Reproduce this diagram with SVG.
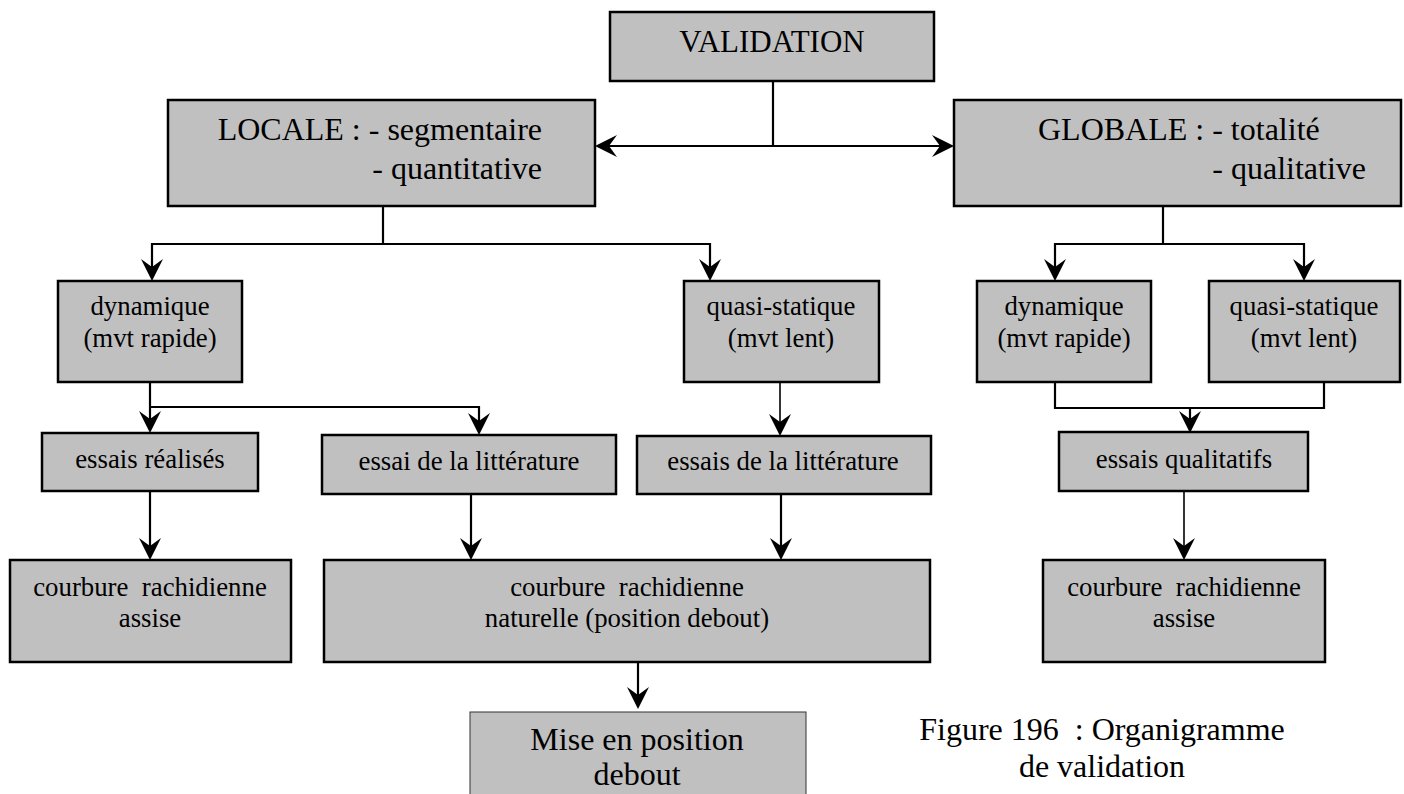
<svg xmlns="http://www.w3.org/2000/svg" width="1404" height="794" viewBox="0 0 1404 794">
<style>
.box{fill:#c0c0c0;stroke:#000;stroke-width:2.5}
.thinbox{fill:#c0c0c0;stroke:#333;stroke-width:1}
text{font-family:"Liberation Serif","Times New Roman",serif;fill:#000;white-space:pre}
.big{font-size:32px}
.sm{font-size:26.8px}
.c{text-anchor:middle}
.e{text-anchor:end}
.ln{fill:none;stroke:#000;stroke-width:2.2}
.ln2{fill:none;stroke:#000;stroke-width:1.6}
</style>
<defs>
<marker id="arr" markerUnits="userSpaceOnUse" viewBox="0 0 22 22" markerWidth="22" markerHeight="22" refX="16" refY="11" orient="auto-start-reverse">
<path d="M22,11 L0,0 L8,11 L0,22 Z" fill="#000"/>
</marker>
</defs>
<rect width="1404" height="794" fill="#fff"/>
<g id="connectors">
<path class="ln" d="M773,81 V146"/>
<path class="ln" d="M601,146 H948" marker-start="url(#arr)" marker-end="url(#arr)"/>
<path class="ln" d="M383,206 V244"/>
<path class="ln" d="M152,275 V244 H710 V275" marker-start="url(#arr)" marker-end="url(#arr)"/>
<path class="ln" d="M1163,206 V244"/>
<path class="ln" d="M1055,275 V244 H1304 V275" marker-start="url(#arr)" marker-end="url(#arr)"/>
<path class="ln" d="M150,382 V427" marker-end="url(#arr)"/>
<path class="ln" d="M150,407 H479 V429" marker-end="url(#arr)"/>
<path class="ln2" d="M780,382 V430" marker-end="url(#arr)"/>
<path class="ln" d="M150,491 V554" marker-end="url(#arr)"/>
<path class="ln" d="M471,494 V554" marker-end="url(#arr)"/>
<path class="ln" d="M781,494 V554" marker-end="url(#arr)"/>
<path class="ln" d="M638,662 V703" marker-end="url(#arr)"/>
<path class="ln" d="M1055,382 V408 H1324 V382"/>
<path class="ln" d="M1190,408 V427" marker-end="url(#arr)"/>
<path class="ln2" d="M1184,491 V554" marker-end="url(#arr)"/>
</g>
<g id="validation">
<rect class="box" x="610" y="12" width="324" height="69"/>
<text class="c" x="772" y="52" font-size="31">VALIDATION</text>
</g>
<g id="locale">
<rect class="box" x="168" y="100" width="427" height="106"/>
<text class="big e" x="542" y="140">LOCALE : - segmentaire</text>
<text class="big e" x="542" y="179">- quantitative</text>
</g>
<g id="globale">
<rect class="box" x="954" y="100" width="447" height="106"/>
<text class="big" x="1038" y="140">GLOBALE : - totalité</text>
<text class="big e" x="1366" y="179">- qualitative</text>
</g>
<g id="dyn-locale">
<rect class="box" x="58" y="281" width="184" height="101"/>
<text class="sm c" x="150" y="315">dynamique</text>
<text class="sm c" x="150" y="347">(mvt rapide)</text>
</g>
<g id="quasi-locale">
<rect class="box" x="684" y="281" width="195" height="101"/>
<text class="sm c" x="781" y="315">quasi-statique</text>
<text class="sm c" x="781" y="347">(mvt lent)</text>
</g>
<g id="dyn-globale">
<rect class="box" x="977" y="281" width="174" height="101"/>
<text class="sm c" x="1064" y="315">dynamique</text>
<text class="sm c" x="1064" y="347">(mvt rapide)</text>
</g>
<g id="quasi-globale">
<rect class="box" x="1209" y="281" width="191" height="101"/>
<text class="sm c" x="1304" y="315">quasi-statique</text>
<text class="sm c" x="1304" y="347">(mvt lent)</text>
</g>
<g id="essais-realises">
<rect class="box" x="42" y="433" width="216" height="58"/>
<text class="sm c" x="150" y="468">essais réalisés</text>
</g>
<g id="essai-litterature">
<rect class="box" x="322" y="435" width="294" height="59"/>
<text class="sm c" x="469" y="470">essai de la littérature</text>
</g>
<g id="essais-litterature">
<rect class="box" x="637" y="436" width="294" height="58"/>
<text class="sm c" x="783" y="470">essais de la littérature</text>
</g>
<g id="essais-qualitatifs">
<rect class="box" x="1059" y="432" width="249" height="59"/>
<text class="sm c" x="1184" y="468">essais qualitatifs</text>
</g>
<g id="courbure-assise-1">
<rect class="box" x="10" y="560" width="281" height="102"/>
<text class="sm c" x="150" y="596">courbure&#160; rachidienne</text>
<text class="sm c" x="150" y="627">assise</text>
</g>
<g id="courbure-naturelle">
<rect class="box" x="324" y="560" width="606" height="102"/>
<text class="sm c" x="627" y="596">courbure&#160; rachidienne</text>
<text class="sm c" x="627" y="627">naturelle (position debout)</text>
</g>
<g id="courbure-assise-2">
<rect class="box" x="1043" y="560" width="282" height="102"/>
<text class="sm c" x="1184" y="596">courbure&#160; rachidienne</text>
<text class="sm c" x="1184" y="627">assise</text>
</g>
<g id="mise-en-position">
<rect class="thinbox" x="470" y="712" width="336" height="100"/>
<text class="big c" x="637" y="750">Mise en position</text>
<text class="big c" x="637" y="785">debout</text>
</g>
<g id="caption">
<text class="big c" x="1102" y="740">Figure 196&#160; : Organigramme</text>
<text class="big c" x="1102" y="777">de validation</text>
</g>
</svg>
